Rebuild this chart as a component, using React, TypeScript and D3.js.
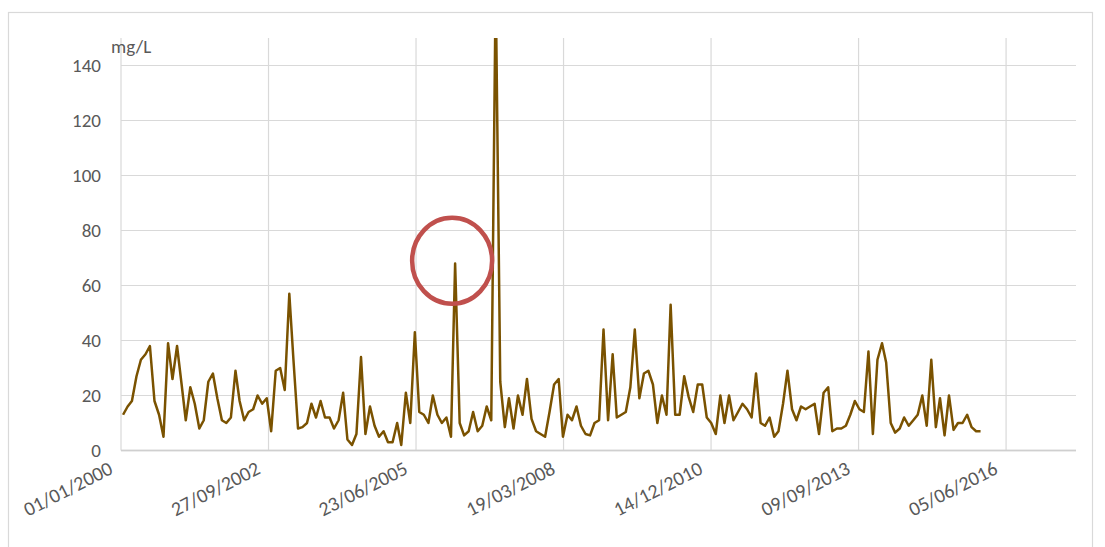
import React from "react";
import * as d3 from "d3";

// Monthly samples (mg/L), Jan 2000 – Dec 2015
const values: number[] = [
  13, 16, 18, 27, 33, 35, 38, 18, 13, 5, 39, 26, 38, 24, 11, 23, 17, 8, 11, 25, 28, 19, 11, 10, 12, 29, 18, 11, 14, 15, 20, 17, 19,
  7, 29, 30, 22, 57, 33, 8, 8.5, 10, 17, 12, 18, 12, 12, 8, 11, 21, 4, 2, 6, 34, 6, 16, 9, 5, 7, 3, 3, 10, 2, 21, 10,
  43, 14, 13, 10, 20, 13, 10, 12, 5, 68, 10, 5.5, 7, 14, 7, 9, 16, 11, 170, 25, 8.5, 19, 8, 20, 13, 26, 11.5, 7, 6, 5, 14, 24,
  26, 5, 13, 11, 16, 9, 6, 5.5, 10, 11, 44, 11, 35, 12, 13, 14, 23, 44, 19, 28, 29, 24, 10, 20, 13, 53, 13, 13, 27, 19.5, 14, 24, 24,
  12, 10, 6, 20, 10, 20, 11, 14, 17, 15, 12, 28, 10, 9, 12, 5, 7, 17, 29, 15, 11, 16, 15, 16, 17, 6, 21, 23, 7, 8, 8,
  9, 13, 18, 15, 14, 36, 6, 33, 39, 32, 10, 6.5, 8, 12, 9, 11, 13, 20, 9, 33, 8.5, 19, 5.5, 20, 7.5, 10, 10, 13, 8.5, 7, 7,
];
const firstSample = new Date(2000, 0, 15);
const dates: Date[] = values.map((_, i) => d3.timeMonth.offset(firstSample, i));

const axisStart = new Date(2000, 0, 1);
const axisEndDays = 6474; // Excel axis max
const tickStepDays = 1000;
const yTicks: number[] = [0, 20, 40, 60, 80, 100, 120, 140];
const yMax = 150;
const unitLabel = "mg/L";
const highlightIndex = 74; // circled value
const highlightCenterValue = 69;

const W = 1105;
const H = 547;
const left = 121;
const right = 1076;
const top = 38;
const bottom = 450.5;

export default function App() {
  const x = d3
    .scaleTime()
    .domain([axisStart, d3.timeDay.offset(axisStart, axisEndDays)])
    .range([left, right]);
  const y = d3.scaleLinear().domain([0, yMax]).range([bottom, top]);

  const xTicks: Date[] = [];
  for (let d = 0; d <= axisEndDays; d += tickStepDays) xTicks.push(d3.timeDay.offset(axisStart, d));
  const fmt = d3.timeFormat("%d/%m/%Y");

  const line = d3
    .line<number>()
    .x((_, i) => x(dates[i]))
    .y((v) => y(v));

  const font = "Calibri, Carlito, Lato, 'Open Sans', sans-serif";
  const textColor = "#595959";

  return (
    <svg
      width={W}
      height={H}
      style={{ position: "absolute", left: 0, top: 0, background: "#fff" }}
    >
      <defs>
        <clipPath id="plot">
          <rect x={left} y={top} width={right - left} height={bottom - top} />
        </clipPath>
      </defs>
      <rect x={8.5} y={12.5} width={1084} height={560} fill="#fff" stroke="#D9D9D9" strokeWidth={1.2} />
      {yTicks.map((t) => (
        <line key={"h" + t} x1={left} x2={right} y1={y(t)} y2={y(t)} stroke="#D9D9D9" strokeWidth={t === 0 ? 1.6 : 1.2} />
      ))}
      {xTicks.map((t, i) => (
        <line key={"v" + i} x1={x(t)} x2={x(t)} y1={top} y2={bottom} stroke="#D9D9D9" strokeWidth={1.2} />
      ))}
      <line x1={left} x2={right} y1={bottom} y2={bottom} stroke="#CFCFCF" strokeWidth={1.6} />
      {yTicks.map((t) => (
        <text key={"yl" + t} x={101} y={y(t)} dy="0.36em" textAnchor="end" fontFamily={font} fontSize={19} fill={textColor}>
          {t}
        </text>
      ))}
      {xTicks.map((t, i) => (
        <text
          key={"xl" + i}
          transform={`translate(${x(t) - 7},${473}) rotate(-27)`}
          textAnchor="end"
          fontFamily={font}
          fontSize={20}
          fill={textColor}
        >
          {fmt(t)}
        </text>
      ))}
      <text x={111} y={53} fontFamily={font} fontSize={19} fill={textColor}>
        {unitLabel}
      </text>
      <g clipPath="url(#plot)">
        <path d={line(values) || ""} fill="none" stroke="#7A5200" strokeWidth={2.5} strokeLinejoin="round" />
      </g>
      <ellipse
        cx={x(dates[highlightIndex]) - 3}
        cy={y(highlightCenterValue)}
        rx={40}
        ry={43}
        fill="none"
        stroke="#C0504D"
        strokeWidth={4.5}
      />
    </svg>
  );
}
